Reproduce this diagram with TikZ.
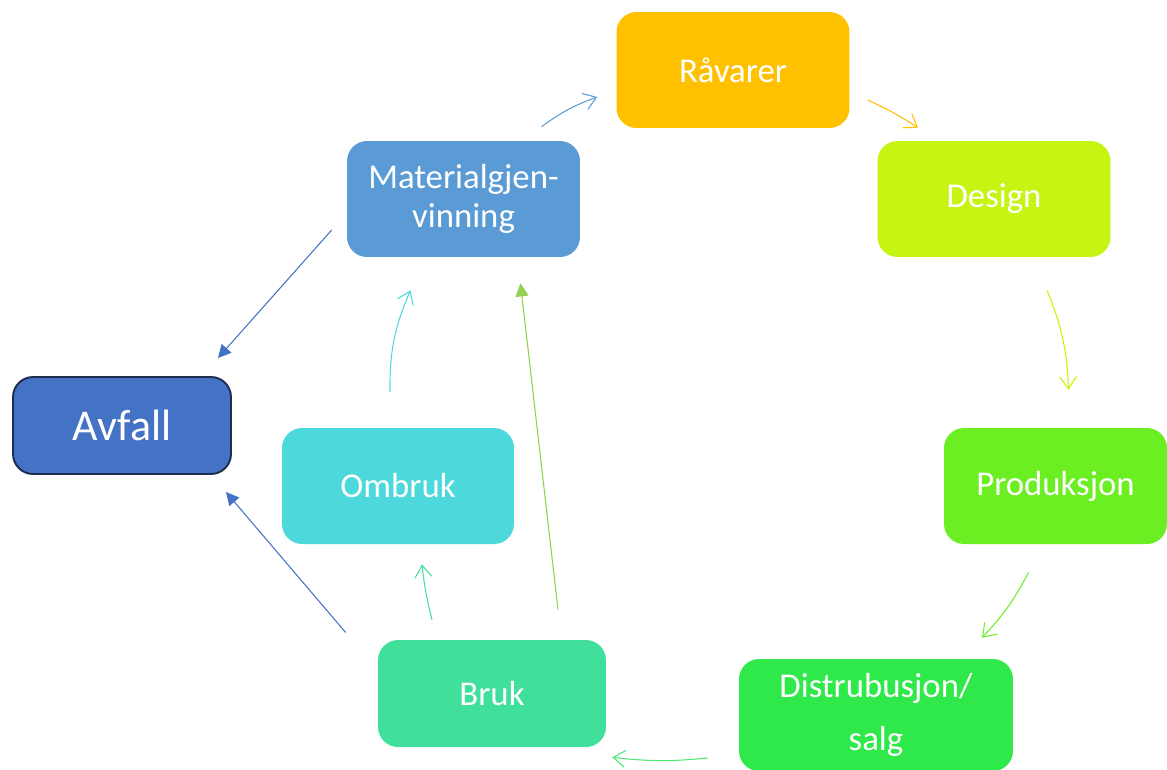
\documentclass[tikz,border=0pt]{standalone}
\usepackage{fontspec}
\setmainfont{Carlito}
\usetikzlibrary{arrows.meta}

\definecolor{ravcol}{HTML}{FFC000}
\definecolor{descol}{HTML}{C6F514}
\definecolor{procol}{HTML}{6BEF23}
\definecolor{discol}{HTML}{2FE84A}
\definecolor{brucol}{HTML}{40E09C}
\definecolor{ombcol}{HTML}{4DD9DC}
\definecolor{matcol}{HTML}{5B9BD5}
\definecolor{avfcol}{HTML}{4472C4}
\definecolor{avfline}{HTML}{1F2D4E}
\definecolor{gjencol}{HTML}{92D050}

\begin{document}
\begin{tikzpicture}[x=0.02cm,y=-0.02cm,
		stage/.style={rounded corners=0.4cm,text=white,align=center,font=\fontsize{19.8}{22}\selectfont,minimum width=4.66cm,minimum height=2.32cm},
		flow/.style={line width=0.6pt,-{Straight Barb[length=2.4mm,width=3.4mm]}},
		waste/.style={line width=0.6pt,-{Triangle[length=2.6mm,width=2.6mm]}}]
		\useasboundingbox (0,0) rectangle (1167,769);

		\node[stage,fill=ravcol] (rav) at (733,70) {Råvarer};
		\node[stage,fill=descol] (des) at (994,199) {Design};
		\node[stage,fill=procol,minimum width=4.46cm] (pro) at (1055.5,486) {Produksjon};
		\node[stage,fill=discol,minimum width=5.48cm,minimum height=2.24cm] (dis) at (876,715) {Distrubusjon/\\[0.3cm]salg};
		\node[stage,fill=brucol,minimum width=4.56cm,minimum height=2.14cm] (bru) at (492,693.5) {Bruk};
		\node[stage,fill=ombcol,minimum width=4.64cm] (omb) at (398,486) {Ombruk};
		\node[stage,fill=matcol] (mat) at (463.5,199) {Materialgjen-\\vinning};
		\node[stage,fill=avfcol,draw=avfline,line width=1.1pt,minimum width=4.36cm,minimum height=1.94cm,font=\fontsize{25}{28}\selectfont] (avf) at (122,425.5) {Avfall};

		\draw[flow,matcol] ([shift={(78,-14)}]mat.north) to[bend left=8] ([shift={(-19,27)}]rav.west);
		\draw[flow,ravcol] ([shift={(18,30)}]rav.east) to[bend left=4] ([shift={(-76,-13)}]des.north);
		\draw[flow,color={rgb,255:red,208;green,240;blue,0}] ([shift={(53,33)}]des.south) to[bend left=10] ([shift={(13,-38)}]pro.north);
		\draw[flow,procol] ([shift={(-27,28)}]pro.south) to[bend left=8] ([shift={(106,-21)}]dis.north);
		\draw[flow,color={rgb,255:red,77;green,232;blue,112}] ([shift={(-31,43)}]dis.west) to[bend left=6] ([shift={(6,10)}]bru.south east);
		\draw[flow,brucol] ([shift={(-60,-20)}]bru.north) to[bend left=4] ([shift={(24,20)}]omb.south);
		\draw[flow,ombcol] ([shift={(-8,-36)}]omb.north) to[bend left=12] ([shift={(-53,33)}]mat.south);
		\draw[waste,gjencol] ([shift={(66,-30)}]bru.north) -- ([shift={(57,26)}]mat.south);
		\draw[waste,avfcol] ([shift={(-15,31)}]mat.west) -- ([shift={(-14,-18)}]avf.north east);
		\draw[waste,avfcol] ([shift={(-32,-61)}]bru.west) -- ([shift={(-6,17)}]avf.south east);
	\end{tikzpicture}
\end{document}
